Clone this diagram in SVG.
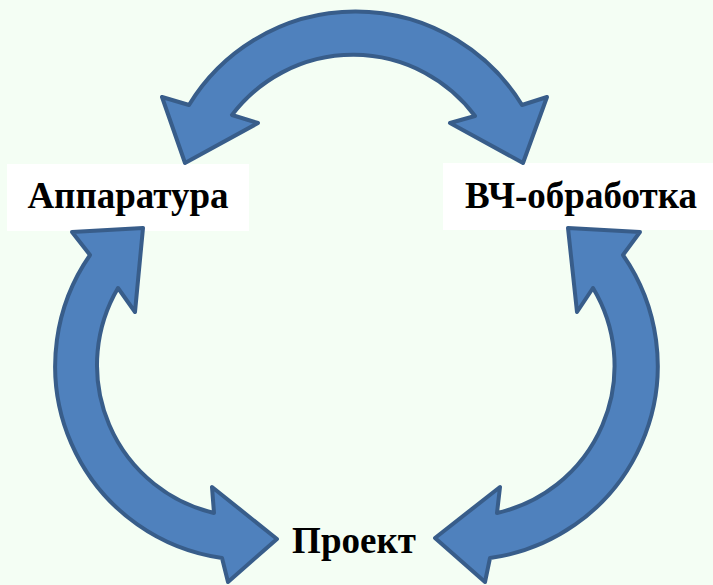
<svg xmlns="http://www.w3.org/2000/svg" width="713" height="585" viewBox="0 0 713 585">
  <style>
    .bg { fill: #F4FEF4; }
    .box { fill: #FFFFFF; }
    .lbl { font-family: "Liberation Serif", "Times New Roman", serif; font-weight: bold; font-size: 37px; fill: #000000; }
    .arrow { fill: #4F81BD; stroke: #385D8A; stroke-width: 4; stroke-linejoin: round; }
  </style>
  <rect class="bg" x="0" y="0" width="713" height="585"/>
  <g id="node-apparatura">
    <rect class="box" x="7" y="164" width="242" height="67"/>
    <text class="lbl" x="128" y="208" text-anchor="middle">Аппаратура</text>
  </g>
  <g id="node-vch">
    <rect class="box" x="443" y="163" width="270" height="67"/>
    <text class="lbl" x="581" y="208" text-anchor="middle">ВЧ-обработка</text>
  </g>
  <g id="node-proekt">
    <text class="lbl" x="354" y="553" text-anchor="middle">Проект</text>
  </g>
  <g id="connectors">
    <path class="arrow" d="M185,163 L162,97 L189,105 A195,195 0 0 1 522,105 L547,97 L523,163 L450,123 L475,116 A152,152 0 0 0 232,115 L258,123 Z"/>
    <path class="arrow" d="M143,228 L72,232 L90,255 A194,194 0 0 0 222,558 L228,582 L277,539 L212,487 L214,513 A152,152 0 0 1 118,288 L135,312 Z"/>
    <path class="arrow" d="M568,228 L640,232 L623,255 A194,194 0 0 1 490,558 L485,582 L435,538 L500,487 L497,513 A151,151 0 0 0 593,288 L577,312 Z"/>
  </g>
</svg>
